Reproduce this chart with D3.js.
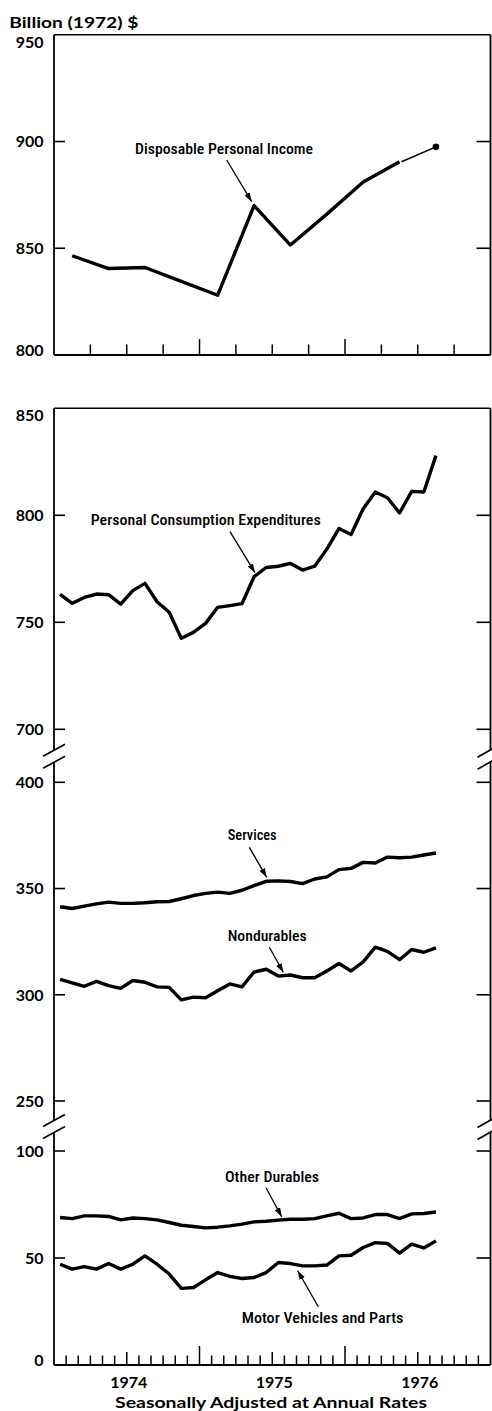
<!DOCTYPE html>
<html><head><meta charset="utf-8">
<script src="https://cdn.jsdelivr.net/npm/d3@7"></script>
<style>html,body{margin:0;padding:0;background:#fff;} svg{display:block;}</style>
</head><body>
<svg id="chart" width="492" height="1411"></svg>
<script>
// ---------- DATA ----------
const years = ["1974", "1975", "1976"];
const monthNames = ["01","02","03","04","05","06","07","08","09","10","11","12"];
const months = years.flatMap(y => monthNames.map(m => y + "-" + m)); // axis categories, 36 months
const quarters = ["1974 I","1974 II","1974 III","1974 IV","1975 I","1975 II","1975 III","1975 IV","1976 I","1976 II","1976 III"];

// Disposable personal income, quarterly (billion 1972 $)
const dpi = [846.5, 840.5, 841, 834.5, 828, 870, 851.5, 866, 881, 890.5, 897.5];
// Monthly series, Jan 1974 - Aug 1976
const pce = [763.0, 758.9, 761.6, 763.2, 762.9, 758.5, 764.8, 768.2, 759.6, 754.7, 742.5, 745.3, 749.5, 757.0, 757.8, 758.7, 771.3, 775.6, 776.2, 777.5, 774.4, 776.2, 784.2, 793.8, 791.0, 803.1, 810.9, 808.2, 801.1, 811.2, 810.9, 827.9];
const services = [341.4, 340.6, 341.7, 342.8, 343.6, 343.0, 343.0, 343.3, 343.8, 343.9, 345.2, 346.7, 347.7, 348.3, 347.7, 349.2, 351.4, 353.4, 353.6, 353.3, 352.3, 354.5, 355.5, 358.9, 359.5, 362.3, 362.0, 364.8, 364.5, 364.8, 365.8, 366.7];
const nondurables = [307.2, 305.6, 304.0, 306.3, 304.3, 303.0, 306.7, 305.9, 303.7, 303.5, 297.6, 298.9, 298.6, 301.9, 305.1, 303.7, 310.7, 312.0, 308.8, 309.3, 308.0, 308.0, 311.2, 314.7, 311.2, 315.5, 322.4, 320.4, 316.5, 321.3, 320.0, 322.1];
const otherDurables = [68.9, 68.4, 69.7, 69.7, 69.4, 67.8, 68.7, 68.4, 67.8, 66.6, 65.3, 64.7, 64.1, 64.4, 65.0, 65.8, 66.9, 67.2, 67.7, 68.1, 68.1, 68.4, 69.7, 70.9, 68.4, 68.7, 70.3, 70.3, 68.4, 70.6, 70.8, 71.5];
const motorVehicles = [47.1, 44.8, 46.0, 44.8, 47.4, 44.8, 47.1, 51.0, 47.1, 42.5, 35.8, 36.2, 39.8, 43.2, 41.4, 40.4, 40.9, 43.2, 47.9, 47.4, 46.3, 46.3, 46.7, 51.0, 51.3, 54.9, 57.2, 56.8, 52.3, 56.5, 54.7, 58.0];

const topTicks = [800, 850, 900, 950];
const pceTicks = [700, 750, 800, 850];
const midTicks = [250, 300, 350, 400];
const lowTicks = [0, 50, 100];

// ---------- LAYOUT ----------
const svg = d3.select("#chart");
const L = 54, R = 490.5;
const x = d3.scaleBand().domain(months).range([L, R]).padding(0);
const bw = x.bandwidth();
const xm = i => x(months[i]) + bw / 2;
const xq = i => xm(3 * i + 1);

const yTop = d3.scaleLinear().domain([800, 950]).range([355, 34.8]);
const yPCE = d3.scaleLinear().domain([700, 850]).range([729.3, 408.3]);
const yMid = d3.scaleLinear().domain([250, 400]).range([1101, 782.3]);
const yLow = d3.scaleLinear().domain([0, 100]).range([1365, 1151]);

const tickFont = "Lato, 'DejaVu Sans', sans-serif";
const noteFont = "'Liberation Sans Narrow', 'Roboto Condensed', Roboto, 'Liberation Sans', sans-serif";

const g = svg.append("g");

// marker
svg.append("defs").append("marker")
  .attr("id", "arr").attr("markerUnits", "userSpaceOnUse")
  .attr("markerWidth", 10).attr("markerHeight", 8).attr("refX", 9).attr("refY", 3)
  .attr("orient", "auto")
  .append("path").attr("d", "M0,0 L9,3 L0,6 Z").attr("fill", "#000");

function hline(x1, x2, y, w) {
  g.append("line").attr("x1", x1).attr("x2", x2).attr("y1", y).attr("y2", y)
    .attr("stroke", "#000").attr("stroke-width", w || 1.6);
}
function vline(xx, y1, y2, w) {
  g.append("line").attr("x1", xx).attr("x2", xx).attr("y1", y1).attr("y2", y2)
    .attr("stroke", "#000").attr("stroke-width", w || 1.6);
}

// ---------- TOP PANEL FRAME ----------
hline(L, R, yTop(950), 1.5);
hline(L, R, yTop(800), 2);
vline(L, yTop(950), yTop(800), 1.8);
vline(R, yTop(950), yTop(800), 1.8);

// y ticks top panel
topTicks.forEach(v => {
  if (v !== 800 && v !== 950) {
    hline(L, L + 11, yTop(v), 1.6);
    hline(R - 14, R, yTop(v), 1.6);
  }
  const dy = v === 950 ? 7 : (v === 800 ? -5 : 0);
  g.append("text").attr("x", 43.5).attr("y", yTop(v) + dy).attr("dy", "0.36em")
    .attr("text-anchor", "end").attr("font-family", tickFont).attr("font-weight", 700)
    .attr("font-size", 16).text(v);
});
// x ticks (quarters) top panel
d3.range(3, 36, 3).forEach(k => {
  const xx = x(months[k]);
  const h = (k % 12 === 0) ? 16 : 10.5;
  vline(xx, yTop(800), yTop(800) - h, 1.5);
});

// DPI line
const lineTop = d3.line().x((d, i) => xq(i)).y(d => yTop(d));
g.append("path").datum(dpi.slice(0, 10)).attr("d", lineTop)
  .attr("fill", "none").attr("stroke", "#000").attr("stroke-width", 3.4).attr("stroke-linejoin", "round");
g.append("line").attr("x1", xq(9) + 2).attr("y1", yTop(dpi[9])).attr("x2", xq(10)).attr("y2", yTop(dpi[10]))
  .attr("stroke", "#000").attr("stroke-width", 1.6);
g.append("circle").attr("cx", xq(10)).attr("cy", yTop(dpi[10])).attr("r", 3.3).attr("fill", "#000");

// ---------- LOWER PANEL FRAME ----------
const brk1 = (yPCE(700) + yMid(400)) / 2;
const brk2 = (yMid(250) + yLow(100)) / 2;
hline(L, R, yPCE(850), 1.5);
hline(L, R, yLow(0), 2);
[L, R].forEach(xx => {
  vline(xx, yPCE(850), brk1 - 5.5, 1.8);
  vline(xx, brk1 + 6.5, brk2 - 5.5, 1.8);
  vline(xx, brk2 + 6.5, yLow(0), 1.8);
});
// break marks
[brk1, brk2].forEach(b => {
  [-5.5, 6.5].forEach(o => {
    g.append("line").attr("x1", L - 11).attr("y1", b + o + 6).attr("x2", L + 11).attr("y2", b + o - 6)
      .attr("stroke", "#000").attr("stroke-width", 1.6);
    g.append("line").attr("x1", R - 13).attr("y1", b + o + 7).attr("x2", R + 8).attr("y2", b + o - 5)
      .attr("stroke", "#000").attr("stroke-width", 1.6);
  });
});

function yTicks(vals, sc, top, bottom) {
  vals.forEach(v => {
    if (v !== bottom) {
      if (v !== top) {
        hline(L, L + 11, sc(v), 1.6);
        hline(R - 14, R, sc(v), 1.6);
      }
    }
    const dy = v === top ? 7 : (v === bottom ? -5 : 0);
    g.append("text").attr("x", 43.5).attr("y", sc(v) + dy).attr("dy", "0.36em")
      .attr("text-anchor", "end").attr("font-family", tickFont).attr("font-weight", 700)
      .attr("font-size", 16).text(v);
  });
}
yTicks(pceTicks, yPCE, 850, null);
yTicks(midTicks, yMid, null, null);
yTicks(lowTicks, yLow, null, 0);

// monthly ticks on bottom axis
d3.range(1, 36).forEach(k => {
  const xx = x(months[k]);
  const h = (k % 12 === 0) ? 19 : (k % 6 === 0 ? 13 : 9.5);
  vline(xx, yLow(0), yLow(0) - h, 1.5);
});

// year labels
years.forEach((yr, i) => {
  const cx = x(months[i * 12 + 6]) + 2;
  g.append("text").attr("x", cx).attr("y", 1388).attr("text-anchor", "middle")
    .attr("font-family", tickFont).attr("font-weight", 700).attr("font-size", 16).text(yr);
});
g.append("text").attr("x", 115).attr("y", 1407.5).attr("textLength", 312).attr("lengthAdjust", "spacingAndGlyphs")
  .attr("font-family", tickFont).attr("font-weight", 700).attr("font-size", 16)
  .text("Seasonally Adjusted at Annual Rates");
g.append("text").attr("x", 9.3).attr("y", 27.5).attr("textLength", 129).attr("lengthAdjust", "spacingAndGlyphs")
  .attr("font-family", tickFont).attr("font-weight", 700).attr("font-size", 16)
  .text("Billion (1972) $");

// ---------- SERIES ----------
function drawSeries(data, sc) {
  const ln = d3.line().x((d, i) => xm(i)).y(d => sc(d));
  g.append("path").datum(data).attr("d", ln).attr("fill", "none").attr("stroke", "#000")
    .attr("stroke-width", 3.4).attr("stroke-linejoin", "round");
}
drawSeries(pce, yPCE);
drawSeries(services, yMid);
drawSeries(nondurables, yMid);
drawSeries(otherDurables, yLow);
drawSeries(motorVehicles, yLow);

// ---------- ANNOTATIONS ----------
const notes = [
  {t: "Disposable Personal Income", x: 135, y: 154, w: 178, a: [226.7, 160, 251.7, 201.7]},
  {t: "Personal Consumption Expenditures", x: 90.7, y: 525, w: 230, a: [230, 531.7, 255, 572.7]},
  {t: "Services", x: 227.7, y: 840, w: 49, a: [249.3, 847.3, 266.7, 877.3]},
  {t: "Nondurables", x: 227.7, y: 941, w: 79, a: [269.3, 947.3, 283.3, 972.3]},
  {t: "Other Durables", x: 225, y: 1182, w: 94, a: [266, 1187.7, 281.7, 1216.7]},
  {t: "Motor Vehicles and Parts", x: 241.7, y: 1323, w: 161.7, a: [318.3, 1306.7, 297.7, 1270.7]}
];
notes.forEach(n => {
  g.append("text").attr("x", n.x).attr("y", n.y).attr("textLength", n.w).attr("lengthAdjust", "spacingAndGlyphs")
    .attr("font-family", noteFont).attr("font-size", 15.5).attr("font-weight", 500).text(n.t);
  g.append("line").attr("x1", n.a[0]).attr("y1", n.a[1]).attr("x2", n.a[2]).attr("y2", n.a[3])
    .attr("stroke", "#000").attr("stroke-width", 1.3).attr("marker-end", "url(#arr)");
});
</script>
</body></html>
